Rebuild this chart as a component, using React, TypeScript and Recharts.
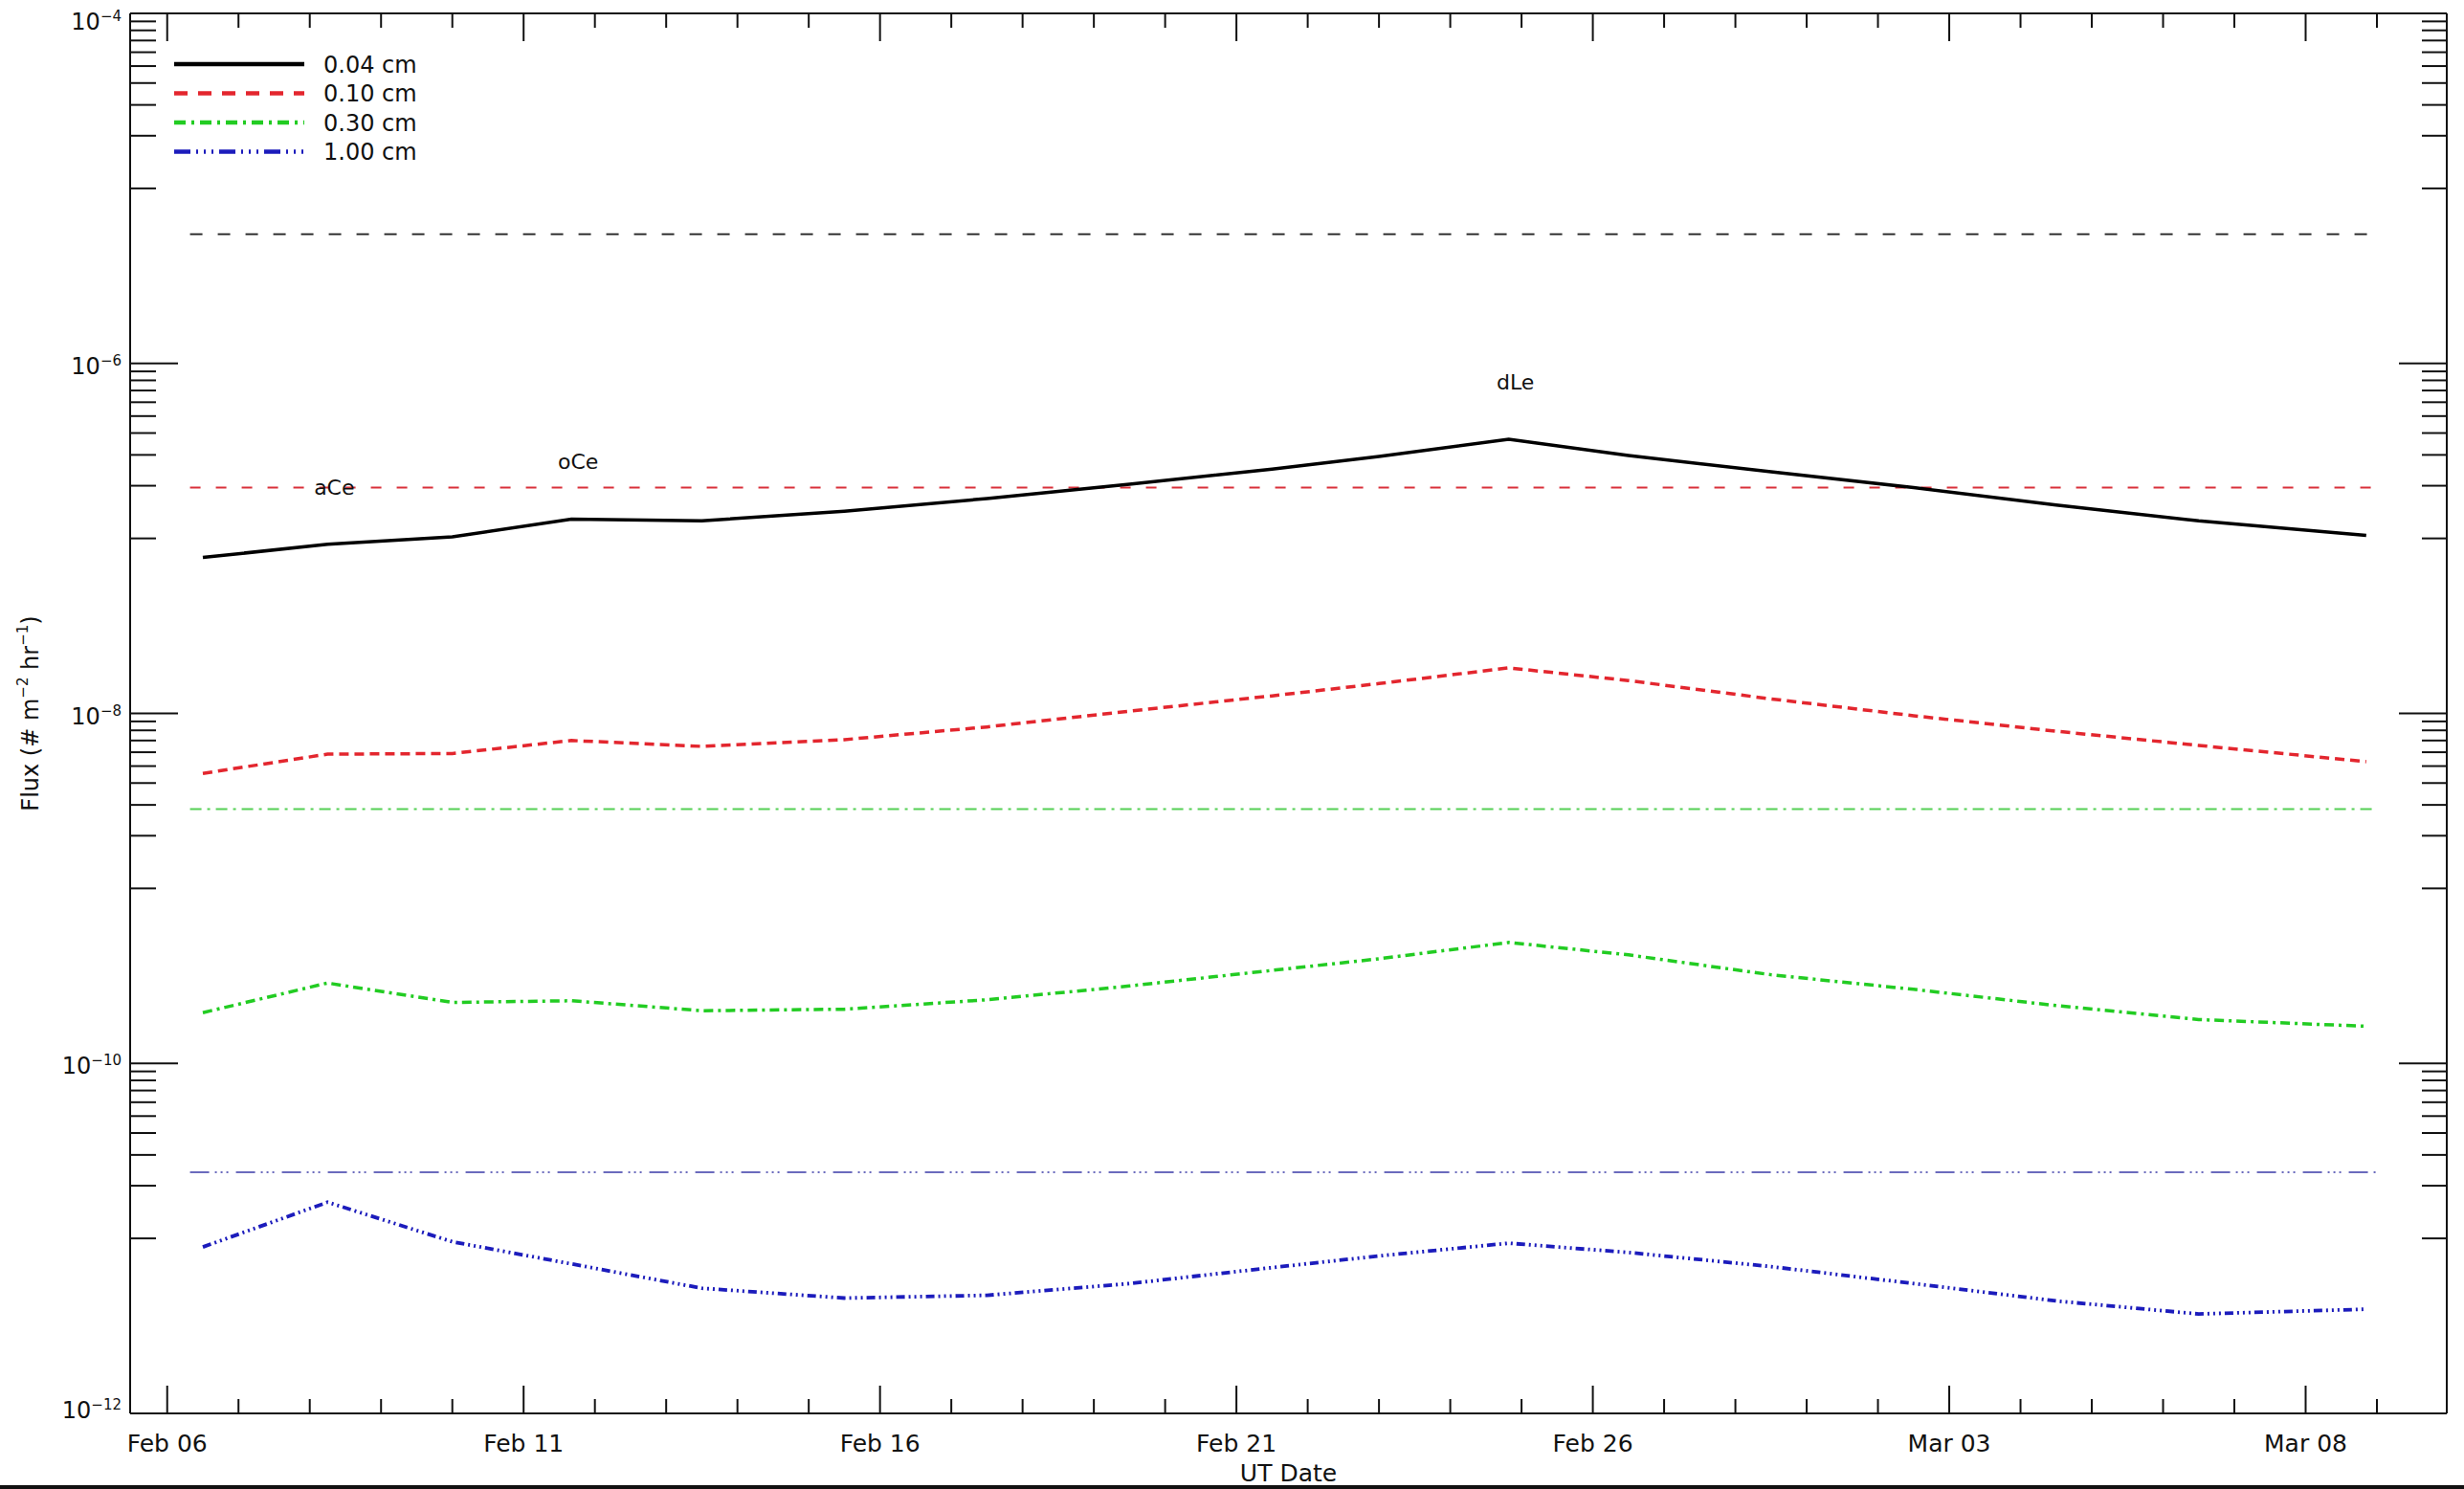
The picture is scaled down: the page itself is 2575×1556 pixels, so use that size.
import React from 'react';
import { LineChart, Line, XAxis, YAxis, Legend, LabelList } from 'recharts';

const FONT = '"DejaVu Sans", "Liberation Sans", sans-serif';
const INK = '#111';

// days since Feb 06 (UT)
const days = [0.5, 2.25, 4, 5.67, 7.5, 9.5, 11.5, 13.5, 15.5, 17, 18.82, 20.5, 22.5, 24.5, 26.5, 28.5, 30.85];

// flux (# m^-2 hr^-1) per particle size
const flux004 = [7.78e-8, 9.25e-8, 1.02e-7, 1.29e-7, 1.26e-7, 1.43e-7, 1.69e-7, 2.04e-7, 2.49e-7, 2.94e-7, 3.69e-7, 2.98e-7, 2.4e-7, 1.95e-7, 1.55e-7, 1.26e-7, 1.04e-7];
const flux010 = [4.54e-9, 5.85e-9, 5.9e-9, 7.0e-9, 6.48e-9, 7.08e-9, 8.37e-9, 1.03e-8, 1.26e-8, 1.48e-8, 1.82e-8, 1.54e-8, 1.21e-8, 9.7e-9, 7.91e-9, 6.56e-9, 5.3e-9];
const flux030 = [1.95e-10, 2.88e-10, 2.23e-10, 2.28e-10, 2.0e-10, 2.04e-10, 2.31e-10, 2.77e-10, 3.4e-10, 3.96e-10, 4.91e-10, 4.17e-10, 3.21e-10, 2.65e-10, 2.14e-10, 1.78e-10, 1.63e-10];
const flux100 = [8.93e-12, 1.61e-11, 9.57e-12, 7.15e-12, 5.19e-12, 4.56e-12, 4.73e-12, 5.52e-12, 6.81e-12, 7.94e-12, 9.39e-12, 8.31e-12, 6.9e-12, 5.52e-12, 4.39e-12, 3.7e-12, 3.94e-12];

// constant levels drawn as thin lines, same order as sizes
const levels = [5.48e-6, 1.95e-7, 2.84e-9, 2.39e-11];
const levelSpan = [0.32, 31.0];

const sizeNames = ['0.04 cm', '0.10 cm', '0.30 cm', '1.00 cm'];

// shower labels marked on the 0.04 cm curve
const eventDays = [2.25, 5.67, 18.82];
const eventNames = ['aCe', 'oCe', 'dLe'];

// axis ticks
const xMajorDays = [0, 5, 10, 15, 20, 25, 30];
const xTickLabels = ['Feb 06', 'Feb 11', 'Feb 16', 'Feb 21', 'Feb 26', 'Mar 03', 'Mar 08'];
const xAllDays = Array.from({ length: 32 }, (_, i) => i);
const yMajorTicks = [1e-12, 1e-10, 1e-8, 1e-6, 1e-4];
const yExpLabels = ['\u221212', '\u221210', '\u22128', '\u22126', '\u22124'];
const yMinorTicks: number[] = [];
for (const e of [-5, -7, -9, -11]) {
  for (let k = 1; k <= 9; k++) yMinorTicks.push(k * Math.pow(10, e));
}
const yAllTicks = [...yMajorTicks, ...yMinorTicks];

const X_DOMAIN = [-0.52, 31.98];
const Y_DOMAIN = [1e-12, 1e-4];

const seriesKeys = ['s004', 's010', 's030', 's100'];
const seriesStyles = [
  { color: '#000000', width: 3.5, dash: undefined, legendDash: undefined },
  { color: '#e3262e', width: 3.5, dash: '10 6', legendDash: '14 11' },
  { color: '#22cc22', width: 3.5, dash: '10 5 3 5', legendDash: '12 6 3 6' },
  { color: '#1c1cbc', width: 3.8, dash: '9 4 2 4 2 4 2 4', legendDash: '17 6 2 6 2 6 2 6' },
];
const levelStyles = [
  { color: '#333333', dash: '13 16' },
  { color: '#d9303a', dash: '11 16' },
  { color: '#55d055', dash: '12 6 3 6' },
  { color: '#6b6bbd', dash: '20 6 2 4 2 4 2 8' },
];

const allFlux = [flux004, flux010, flux030, flux100];
const rows = days.map((day, i) => {
  const row: Record<string, any> = { day };
  seriesKeys.forEach((k, s) => (row[k] = allFlux[s][i]));
  const ev = eventDays.indexOf(day);
  row.event = ev >= 0 ? eventNames[ev] : null;
  return row;
});
const levelRows = levels.map((v) => [
  { day: levelSpan[0], v },
  { day: levelSpan[1], v },
]);

function LeftTick(props: any) {
  const { x, y, payload } = props;
  const i = yMajorTicks.indexOf(payload.value);
  const major = i >= 0;
  // the top label sits a little below its tick, the bottom one a little above
  const shift = i === yMajorTicks.length - 1 ? 8 : i === 0 ? -4 : 2;
  return (
    <g>
      <line x1={x} x2={x + (major ? 50 : 27)} y1={y} y2={y} stroke={INK} strokeWidth={2} />
      {major && (
        <text x={x - 9} y={y + 9 + shift} textAnchor="end" fontSize={24} fontFamily={FONT} fill={INK}>
          10
          <tspan dy={-9} fontSize={15}>
            {yExpLabels[i]}
          </tspan>
        </text>
      )}
    </g>
  );
}

function RightTick(props: any) {
  const { x, y, payload } = props;
  const major = yMajorTicks.indexOf(payload.value) >= 0;
  return <line x1={x} x2={x - (major ? 50 : 26)} y1={y} y2={y} stroke={INK} strokeWidth={2} />;
}

function BottomTick(props: any) {
  const { x, y, payload } = props;
  const i = xMajorDays.indexOf(payload.value);
  const major = i >= 0;
  return (
    <g>
      <line x1={x} x2={x} y1={y} y2={y - (major ? 29 : 15)} stroke={INK} strokeWidth={2} />
      {major && (
        <text x={x} y={y + 40} textAnchor="middle" fontSize={25} fontFamily={FONT} fill={INK}>
          {xTickLabels[i]}
        </text>
      )}
    </g>
  );
}

function TopTick(props: any) {
  const { x, y, payload } = props;
  const major = xMajorDays.indexOf(payload.value) >= 0;
  return <line x1={x} x2={x} y1={y} y2={y + (major ? 29 : 15)} stroke={INK} strokeWidth={2} />;
}

function YTitle(props: any) {
  const vb = props.viewBox;
  const cx = vb.x - 4;
  const cy = vb.y + vb.height / 2;
  return (
    <text
      x={cx}
      y={cy}
      transform={`rotate(-90, ${cx}, ${cy})`}
      textAnchor="middle"
      dominantBaseline="central"
      fontSize={24}
      fontFamily={FONT}
      fill={INK}
    >
      Flux (# m<tspan dy={-8} fontSize={15}>{'\u22122'}</tspan>
      <tspan dy={8}> hr</tspan>
      <tspan dy={-8} fontSize={15}>{'\u22121'}</tspan>
      <tspan dy={8}>)</tspan>
    </text>
  );
}

function XTitle(props: any) {
  const vb = props.viewBox;
  return (
    <text x={vb.x + vb.width / 2} y={vb.y + 71} textAnchor="middle" fontSize={25} fontFamily={FONT} fill={INK}>
      UT Date
    </text>
  );
}

function EventLabel(props: any) {
  const { value } = props;
  if (!value) return null;
  const vb = props.viewBox || props;
  return (
    <text x={vb.x + 7} y={vb.y - 52} textAnchor="middle" fontSize={22} fontFamily={FONT} fill={INK}>
      {value}
    </text>
  );
}

function FluxLegend() {
  return (
    <svg width={330} height={130}>
      {sizeNames.map((name, i) => {
        const y = 17 + i * 30.5;
        const st = seriesStyles[i];
        return (
          <g key={name}>
            <line x1={7} x2={143} y1={y} y2={y} stroke={st.color} strokeWidth={4.5} strokeDasharray={st.legendDash} />
            <text x={163} y={y + 8.5} fontSize={24} fontFamily={FONT} fill={INK}>
              {name}
            </text>
          </g>
        );
      })}
    </svg>
  );
}

const frame = { stroke: INK, strokeWidth: 2 };

export default function App() {
  return (
    <div style={{ position: 'absolute', left: 0, top: 0, width: 2575, height: 1556, background: '#fff', overflow: 'hidden' }}>
      <LineChart width={2575} height={1556} data={rows} margin={{ top: 13, right: 17, bottom: 19, left: 36 }}>
        <XAxis
          xAxisId="b"
          dataKey="day"
          type="number"
          domain={X_DOMAIN}
          allowDataOverflow
          ticks={xAllDays}
          interval={0}
          tick={<BottomTick />}
          tickLine={false}
          tickSize={0}
          tickMargin={0}
          axisLine={frame}
          height={60}
          label={<XTitle />}
        />
        <XAxis
          xAxisId="t"
          orientation="top"
          dataKey="day"
          type="number"
          domain={X_DOMAIN}
          allowDataOverflow
          ticks={xAllDays}
          interval={0}
          tick={<TopTick />}
          tickLine={false}
          tickSize={0}
          tickMargin={0}
          axisLine={frame}
          height={1}
        />
        <YAxis
          yAxisId="l"
          type="number"
          scale="log"
          domain={Y_DOMAIN}
          allowDataOverflow
          ticks={yAllTicks}
          interval={0}
          tick={<LeftTick />}
          tickLine={false}
          tickSize={0}
          tickMargin={0}
          axisLine={frame}
          width={100}
          label={<YTitle />}
        />
        <YAxis
          yAxisId="r"
          orientation="right"
          type="number"
          scale="log"
          domain={Y_DOMAIN}
          allowDataOverflow
          ticks={yAllTicks}
          interval={0}
          tick={<RightTick />}
          tickLine={false}
          tickSize={0}
          tickMargin={0}
          axisLine={frame}
          width={1}
        />
        <Legend
          content={<FluxLegend />}
          layout="horizontal"
          verticalAlign="middle"
          align="center"
          wrapperStyle={{ left: 175, top: 50, width: 330, height: 130 }}
        />
        {levelRows.map((data, i) => (
          <Line
            key={`level-${i}`}
            data={data}
            xAxisId="t"
            yAxisId="r"
            dataKey="v"
            stroke={levelStyles[i].color}
            strokeWidth={2}
            strokeDasharray={levelStyles[i].dash}
            dot={false}
            activeDot={false}
            legendType="none"
            isAnimationActive={false}
          />
        ))}
        {seriesKeys.map((k, i) => (
          <Line
            key={k}
            xAxisId="b"
            yAxisId="l"
            dataKey={k}
            name={sizeNames[i]}
            type="linear"
            stroke={seriesStyles[i].color}
            strokeWidth={seriesStyles[i].width}
            strokeDasharray={seriesStyles[i].dash}
            dot={false}
            activeDot={false}
            isAnimationActive={false}
          >
            {i === 0 && <LabelList dataKey="event" content={<EventLabel />} />}
          </Line>
        ))}
      </LineChart>
      <div style={{ position: 'absolute', left: 0, top: 1552, width: 2575, height: 4, background: '#111' }} />
    </div>
  );
}
